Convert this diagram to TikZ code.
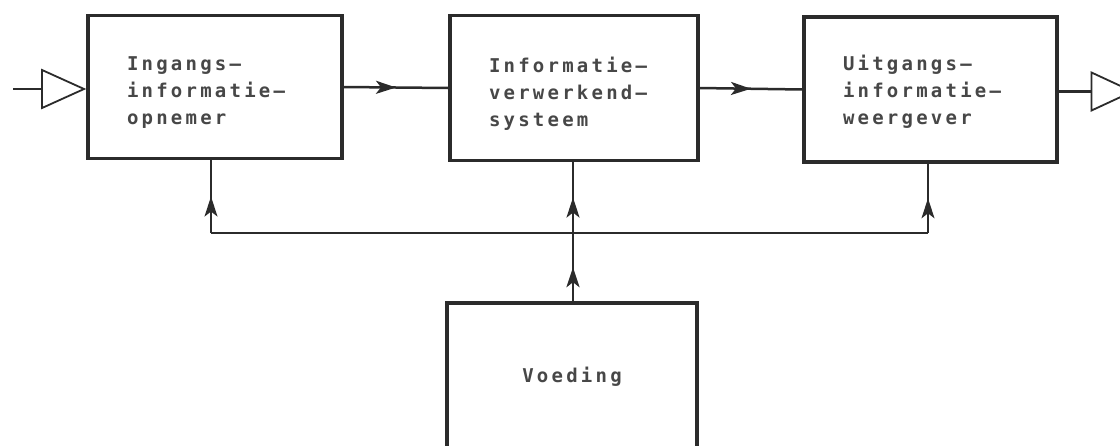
\documentclass[tikz,border=0pt]{standalone}
\usepackage{fontspec}
\newfontfamily\lblfont{DejaVu Sans Mono}[LetterSpace=17]
\usetikzlibrary{arrows.meta,decorations.markings,shapes.geometric,calc}
\definecolor{ink}{HTML}{2B2B2B}
\definecolor{txt}{HTML}{474747}
\newcommand\topstrut[1]{\rule{0pt}{#1}}
\begin{document}
\begin{tikzpicture}[x=1pt,y=-1pt,
  blk/.style={draw=ink, line width=3.2pt, inner xsep=39pt, align=left,
    font=\lblfont\bfseries\fontsize{19}{27}\selectfont, text=txt},
  conn/.style={draw=ink, line width=2.5pt},
  bus/.style={draw=ink, line width=1.7pt},
  midarrow/.style={postaction={decorate}, decoration={markings,
    mark=at position 0.5 with {\arrow{Stealth[length=20pt,width=13pt,inset=5pt]}}}},
  tri/.style={isosceles triangle, isosceles triangle stretches=true, draw=ink,
    line width=1.8pt, inner sep=0pt, fill=white}]
\useasboundingbox (0,0) rectangle (1120,445);
\clip (0,0) rectangle (1120,445);
\fill[white] (0,0) rectangle (1120,445);

\node[blk, minimum width=254pt, minimum height=143pt, text width=176pt] (b1) at (215,87)
  {\topstrut{25pt}Ingangs–\\informatie–\\opnemer};
\node[blk, minimum width=248pt, minimum height=145pt, text width=170pt] (b2) at (574,88)
  {\topstrut{27pt}Informatie–\\verwerkend–\\systeem};
\node[blk, minimum width=253pt, minimum height=145pt, text width=175pt] (b3) at (930.5,89.5)
  {\topstrut{19pt}Uitgangs–\\informatie–\\weergever};
\node[blk, minimum width=250pt, minimum height=148pt, align=center, inner xsep=4pt] (v) at (572,377)
  {Voeding};

% input
\coordinate (in) at (13,89);
\node[tri, minimum width=38pt, minimum height=42pt, anchor=apex] (tin) at (b1.west |- in) {};
\draw[conn] (in) -- (tin.west);

% output
\node[tri, minimum width=38pt, minimum height=41pt, anchor=west] (tout) at ($(b3.east)+(32,2)$) {};
\draw[conn] (b3.east |- tout.west) -- (tout.west);

% forward arrows
\draw[conn, midarrow] (b1.east) -- (b2.west);
\draw[conn, midarrow] (b2.east) -- (b3.west);

% power distribution
\coordinate (jc) at (573,233);
\coordinate (jl) at (211,233);
\coordinate (jr) at (928,233);
\draw[bus] (jl) -- (jr);
\draw[bus, midarrow] (jl) -- (jl |- b1.south);
\draw[bus, midarrow] (jr) -- (jr |- b3.south);
\draw[conn, midarrow] (jc |- v.north) -- (jc);
\draw[conn, midarrow] (jc) -- (jc |- b2.south);
\end{tikzpicture}
\end{document}
